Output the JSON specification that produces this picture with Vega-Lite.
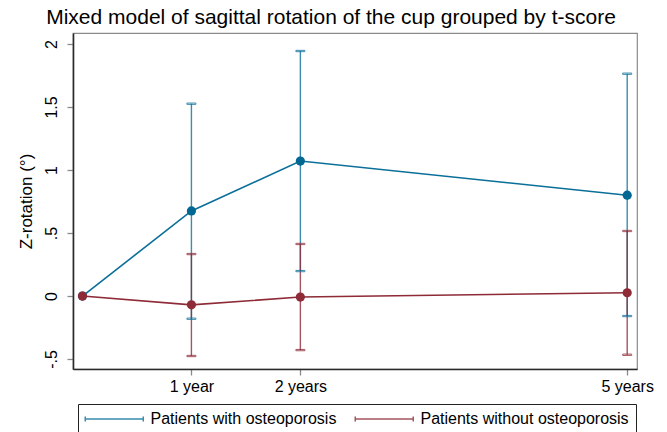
{
  "$schema": "https://vega.github.io/schema/vega-lite/v6.json",
  "width": 564,
  "height": 336,
  "autosize": {"type": "none"},
  "padding": {"left": 73, "top": 33, "right": 30, "bottom": 63},
  "background": "white",
  "title": {
    "text": "Mixed model of sagittal rotation of the cup grouped by t-score",
    "font": "Liberation Sans",
    "fontSize": 21,
    "fontWeight": "normal",
    "color": "black",
    "anchor": "middle",
    "frame": "group",
    "offset": 5,
    "dx": -24
  },
  "config": {
    "view": {"stroke": "#8a8a8a", "strokeWidth": 1.2},
    "font": "Liberation Sans",
    "axis": {
      "grid": false,
      "domainColor": "#2a2a2a",
      "domainWidth": 1.6,
      "tickColor": "#8a8a8a",
      "tickWidth": 1.3,
      "tickSize": 6,
      "labelFont": "Liberation Sans",
      "labelFontSize": 16,
      "labelColor": "black",
      "titleFont": "Liberation Sans",
      "titleFontSize": 17,
      "titleFontWeight": "normal",
      "titleColor": "black"
    }
  },
  "data": {
    "values": [
      {"group": "Patients with osteoporosis", "t": 0, "est": 0, "lo": 0, "hi": 0},
      {"group": "Patients with osteoporosis", "t": 1, "est": 0.675, "lo": -0.18, "hi": 1.526},
      {"group": "Patients with osteoporosis", "t": 2, "est": 1.071, "lo": 0.198, "hi": 1.944},
      {"group": "Patients with osteoporosis", "t": 5, "est": 0.8, "lo": -0.159, "hi": 1.764},
      {"group": "Patients without osteoporosis", "t": 0, "est": 0, "lo": 0, "hi": 0},
      {"group": "Patients without osteoporosis", "t": 1, "est": -0.07, "lo": -0.476, "hi": 0.333},
      {"group": "Patients without osteoporosis", "t": 2, "est": -0.008, "lo": -0.429, "hi": 0.413},
      {"group": "Patients without osteoporosis", "t": 5, "est": 0.026, "lo": -0.466, "hi": 0.516}
    ]
  },
  "encoding": {
    "x": {
      "field": "t",
      "type": "quantitative",
      "scale": {"domain": [-0.087, 5.09], "nice": false, "zero": false},
      "axis": {
        "title": null,
        "values": [1, 2, 5],
        "labelExpr": "datum.value == 1 ? '1 year' : datum.value + ' years'",
        "labelPadding": 3
      }
    }
  },
  "layer": [
    {
      "transform": [{"filter": "datum.t > 0"}],
      "mark": {"type": "rule", "strokeWidth": 1.4, "opacity": 0.8},
      "encoding": {
        "y": {"field": "lo", "type": "quantitative"},
        "y2": {"field": "hi"},
        "stroke": {
          "field": "group",
          "type": "nominal",
          "scale": {
            "domain": ["Patients with osteoporosis", "Patients without osteoporosis"],
            "range": ["#0a6f99", "#8e2b37"]
          },
          "legend": {
            "title": null,
            "orient": "none",
            "legendX": 5,
            "legendY": 371,
            "direction": "horizontal",
            "columns": 2,
            "columnPadding": 15,
            "padding": 7,
            "strokeColor": "#222",
            "fillColor": "white",
            "symbolType": "M-1.107,-0.37L-1.107,0.37M-1.107,0L7.18,0M7.18,-0.37L7.18,0.37",
            "symbolSize": 196,
            "symbolStrokeWidth": 1.5,
            "symbolFillColor": "transparent",
            "symbolOpacity": 1,
            "labelFont": "Liberation Sans",
            "labelFontSize": 16,
            "labelColor": "black",
            "labelOffset": 49.5,
            "labelLimit": 400
          }
        }
      }
    },
    {
      "transform": [{"filter": "datum.t > 0"}],
      "mark": {"type": "tick", "orient": "horizontal", "size": 9, "thickness": 1.3, "opacity": 0.8},
      "encoding": {
        "y": {"field": "lo", "type": "quantitative"},
        "stroke": {"field": "group", "type": "nominal"},
        "color": {"value": "transparent"}
      }
    },
    {
      "transform": [{"filter": "datum.t > 0"}],
      "mark": {"type": "tick", "orient": "horizontal", "size": 9, "thickness": 1.3, "opacity": 0.8},
      "encoding": {
        "y": {"field": "hi", "type": "quantitative"},
        "stroke": {"field": "group", "type": "nominal"},
        "color": {"value": "transparent"}
      }
    },
    {
      "mark": {"type": "line", "strokeWidth": 1.6},
      "encoding": {
        "y": {
          "field": "est",
          "type": "quantitative",
          "scale": {"domain": [-0.579, 2.087], "nice": false, "zero": false},
          "axis": {
            "title": "Z-rotation (°)",
            "values": [-0.5, 0, 0.5, 1, 1.5, 2],
            "labelExpr": "datum.value == 0.5 ? '.5' : datum.value == -0.5 ? '-.5' : format(datum.value, '')",
            "labelAngle": -90,
            "labelAlign": "center",
            "labelBaseline": "bottom",
            "labelPadding": 8,
            "titlePadding": 8
          }
        },
        "stroke": {"field": "group", "type": "nominal"}
      }
    },
    {
      "mark": {"type": "point", "filled": true, "size": 85, "opacity": 1},
      "encoding": {
        "y": {"field": "est", "type": "quantitative"},
        "fill": {
          "field": "group",
          "type": "nominal",
          "scale": {
            "domain": ["Patients with osteoporosis", "Patients without osteoporosis"],
            "range": ["#006892", "#8e2b37"]
          },
          "legend": null
        }
      }
    }
  ]
}
